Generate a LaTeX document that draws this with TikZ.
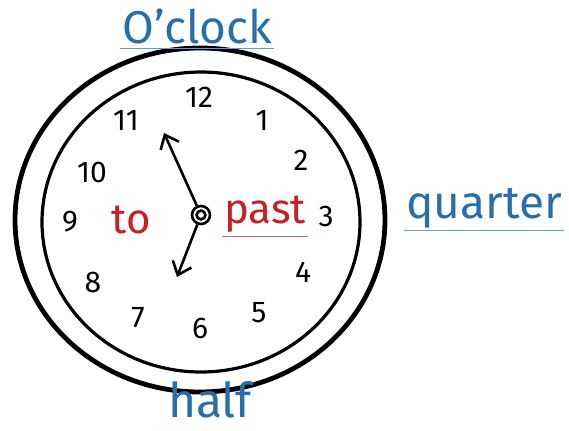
\documentclass[tikz,border=0pt]{standalone}
\usepackage{fontspec}
\setmainfont{Fira Sans}
\usetikzlibrary{arrows.meta}
\definecolor{clockBlue}{RGB}{40,110,170}
\definecolor{clockRed}{RGB}{200,30,40}
\begin{document}
\begin{tikzpicture}[x=0.5pt,y=-0.5pt,
    clockNum/.style={font=\fontsize{15}{15}\selectfont, text=black, inner sep=0pt},
    clockWord/.style={font=\fontsize{23}{23}\selectfont, text=clockBlue, inner sep=1pt},
    clockRedWord/.style={font=\fontsize{21}{21}\selectfont, text=clockRed, inner sep=1pt},
    clockHand/.style={line width=1.3pt, -{Straight Barb[length=6pt,width=10pt]}}
]
\useasboundingbox (0,0) rectangle (569,430);
% rims of the clock
\draw[line width=2.4pt] (200,220) ellipse [x radius=185, y radius=172];
\draw[line width=1.6pt] (201,222) ellipse [x radius=159, y radius=150];

% hour numbers
\node[clockNum] (n12) at (199,97) {12};
\node[clockNum] (n1) at (262,120) {1};
\node[clockNum] (n2) at (301,160) {2};
\node[clockNum] (n3) at (326,216) {3};
\node[clockNum] (n4) at (303,272) {4};
\node[clockNum] (n5) at (259,313) {5};
\node[clockNum] (n6) at (200,328) {6};
\node[clockNum] (n7) at (138,318) {7};
\node[clockNum] (n8) at (93,282) {8};
\node[clockNum] (n9) at (70,222) {9};
\node[clockNum] (n10) at (92,172) {10};
\node[clockNum] (n11) at (126,120) {11};

% hands
\node[circle, draw, line width=1.3pt, minimum size=9pt, inner sep=0pt] (pin) at (201,215) {};
\draw[line width=1.3pt] (pin.center) circle [radius=2.2pt];
\coordinate (longTip) at (164,133);
\coordinate (shortTip) at (177,277);
\draw[clockHand] (pin) -- (longTip);
\draw[clockHand] (pin) -- (shortTip);

% to / past
\node[clockRedWord] (to) at (131,220) {to};
\node[clockRedWord] (past) at (265,214) {past};
\draw[clockRed!70, line width=0.5pt] ([yshift=-1pt]past.south west) -- ([yshift=-1pt]past.south east);

% blue words
\node[clockWord] (oclock) at (197,26) {O’clock};
\draw[clockBlue!70, line width=0.5pt] ([yshift=-1pt]oclock.south west) -- ([yshift=-1pt]oclock.south east);
\node[clockWord] (quarter) at (484,208) {quarter};
\draw[clockBlue!70, line width=0.5pt] (quarter.south west) -- (quarter.south east);
\node[clockWord, font=\fontsize{24}{24}\selectfont] (half) at (210,400) {half};
\end{tikzpicture}
\end{document}
